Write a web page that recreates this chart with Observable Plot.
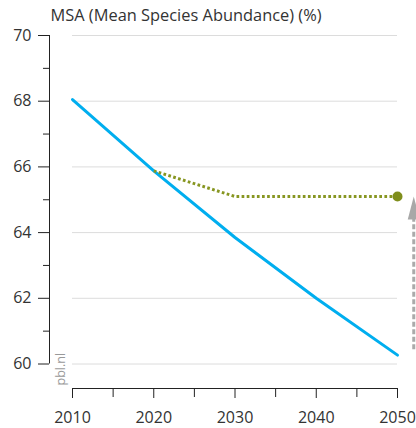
<!DOCTYPE html>
<html>
<head>
<meta charset="utf-8">
<script src="https://cdn.jsdelivr.net/npm/d3@7"></script>
<script src="https://cdn.jsdelivr.net/npm/@observablehq/plot@0.6"></script>
<style>
  html, body { margin: 0; padding: 0; background: #fff; }
</style>
</head>
<body>
<div id="chart"></div>
<script>
const title = "MSA (Mean Species Abundance) (%)";
const source = "pbl.nl";
const years = [2010, 2020, 2030, 2040, 2050];
const baseline = [68.05, 65.88, 63.85, 62.0, 60.27];
const policyYears = [2020, 2030, 2040, 2050];
const policy = [65.88, 65.1, 65.1, 65.1];
const yTicks = [60, 62, 64, 66, 68, 70];
const yMinor = [61, 63, 65, 67, 69];
const xTicks = [2010, 2020, 2030, 2040, 2050];
const xMinor = [2015, 2025, 2035, 2045];
const arrowX = 2052;
const arrowFrom = 60.45;
const arrowTo = 65.1;

const baseData = years.map((y, i) => ({year: y, value: baseline[i]}));
const policyData = policyYears.map((y, i) => ({year: y, value: policy[i]}));
const endPoint = [policyData[policyData.length - 1]];

const head = {
  draw(ctx) {
    ctx.moveTo(0, 0);
    ctx.lineTo(6, 23);
    ctx.lineTo(-6, 23);
    ctx.closePath();
  }
};

const axisColor = "#222";
const chart = Plot.plot({
  width: 416,
  height: 428,
  marginLeft: 72,
  marginRight: 19,
  marginTop: 35,
  marginBottom: 64.5,
  x: {domain: [2010, 2050]},
  y: {domain: [60, 70]},
  style: {fontFamily: "'Open Sans', sans-serif", fontSize: "14px", color: "#333", background: "#fff"},
  marks: [
    Plot.gridY(yTicks, {stroke: "#dcdcdc", strokeOpacity: 1, strokeWidth: 1}),
    Plot.ruleX([2010], {y1: 60, y2: 70, dx: -23, stroke: axisColor}),
    Plot.axisY(yTicks, {tickSize: 11, dx: -23, tickPadding: 7, stroke: axisColor, label: null, fill: "#333", fontSize: 16}),
    Plot.axisY(yMinor, {tickSize: 6, dx: -23, stroke: axisColor, tickFormat: () => "", label: null}),
    Plot.ruleY([60], {x1: 2010, x2: 2050, dy: 24.5, stroke: axisColor}),
    Plot.axisX(xTicks, {tickSize: 10, dy: 24.5, tickPadding: 13, stroke: axisColor, tickFormat: d => String(d), label: null, fill: "#333", fontSize: 16}),
    Plot.axisX(xMinor, {tickSize: 9, dy: 24.5, stroke: axisColor, tickFormat: () => "", label: null}),
    Plot.line(baseData, {x: "year", y: "value", stroke: "#00aeef", strokeWidth: 3}),
    Plot.line(policyData, {x: "year", y: "value", stroke: "#879621", strokeWidth: 3, strokeDasharray: "2.7,2.4", strokeLinecap: "butt", strokeLinejoin: "miter"}),
    Plot.dot(endPoint, {x: "year", y: "value", r: 5, fill: "#7f8e1c", stroke: "none"}),
    Plot.link([{x: arrowX, y1: arrowFrom, y2: arrowTo - 0.55}], {x1: "x", x2: "x", y1: "y1", y2: "y2", stroke: "#aaaaaa", strokeWidth: 3, strokeDasharray: "5,2.5", strokeLinecap: "butt", clip: false}),
    Plot.dot([{x: arrowX, y: arrowTo}], {x: "x", y: "y", symbol: head, r: 5, fill: "#a8a8a8", stroke: "none"}),
    Plot.text([title], {frameAnchor: "top-left", dx: -22, dy: -15, text: d => d, textAnchor: "start", lineAnchor: "bottom", fontSize: 16.4, fill: "#333"}),
    Plot.text([source], {frameAnchor: "bottom-left", dx: -12, dy: 21.5, text: d => d, rotate: -90, textAnchor: "start", lineAnchor: "middle", fontSize: 12.5, fill: "#999"})
  ]
});
document.getElementById("chart").appendChild(chart);
</script>
</body>
</html>
